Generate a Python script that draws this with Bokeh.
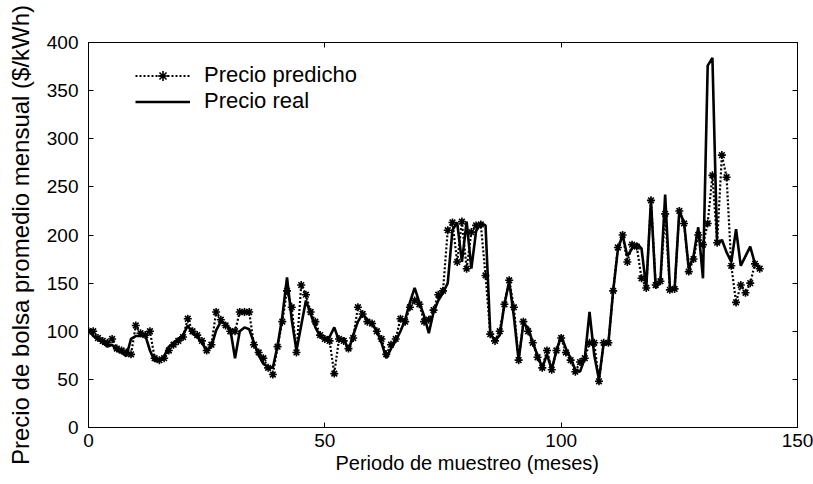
from bokeh.plotting import figure
from bokeh.models import Range1d, LinearAxis, Legend, LegendItem, FixedTicker, Title
from bokeh.embed import file_html
from bokeh.resources import INLINE

# Month index (periodo de muestreo)
meses = list(range(0, 143))

precio_real = [
    102, 95, 92, 88, 84, 86, 80, 78, 74, 92,
    95, 95, 96, 80, 69, 70, 74, 84, 88, 92,
    96, 106, 98, 94, 88, 80, 84, 101, 110, 108,
    102, 72, 100, 104, 102, 88, 75, 66, 63, 62,
    85, 115, 156, 112, 80, 106, 132, 118, 104, 95,
    92, 94, 104, 90, 93, 80, 96, 110, 118, 112,
    108, 100, 88, 72, 82, 90, 100, 112, 130, 145,
    130, 116, 98, 120, 132, 140, 150, 205, 213, 172,
    214, 165, 204, 212, 210, 98, 90, 96, 128, 152,
    115, 70, 108, 104, 88, 75, 62, 76, 60, 80,
    95, 82, 72, 60, 58, 72, 120, 75, 50, 88,
    88, 142, 185, 200, 178, 186, 191, 186, 145, 236,
    145, 152, 242, 146, 144, 225, 213, 165, 178, 208,
    155, 376, 384, 190, 195, 182, 172, 206, 168, 178,
    188, 170, 166,
]

precio_predicho = [
    100, 100, 93, 90, 88, 92, 82, 80, 78, 76,
    106, 98, 96, 100, 72, 70, 72, 80, 86, 90,
    94, 113, 100, 96, 90, 80, 86, 120, 112, 106,
    100, 100, 120, 120, 120, 86, 78, 72, 62, 55,
    84, 110, 142, 125, 78, 148, 138, 120, 110, 96,
    92, 90, 56, 92, 90, 82, 93, 125, 118, 110,
    108, 100, 92, 76, 86, 92, 113, 110, 125, 132,
    128, 110, 112, 122, 138, 142, 205, 213, 172, 214,
    165, 203, 210, 211, 158, 97, 90, 100, 128, 153,
    125, 70, 110, 100, 88, 73, 62, 80, 60, 80,
    93, 78, 70, 58, 68, 72, 88, 88, 48, 88,
    88, 142, 187, 200, 172, 190, 188, 155, 145, 236,
    148, 152, 222, 143, 144, 225, 212, 162, 175, 200,
    190, 212, 262, 192, 283, 260, 168, 130, 148, 140,
    150, 170, 165,
]

x_ticks = [0, 50, 100, 150]
y_ticks = [0, 50, 100, 150, 200, 250, 300, 350, 400]

FONT = "Liberation Sans"

p = figure(width=813, height=484, output_backend="svg", toolbar_location=None,
           x_range=Range1d(0, 150), y_range=Range1d(0, 400),
           min_border_left=88, min_border_right=16, min_border_top=42, min_border_bottom=57)
p.grid.visible = False
p.outline_line_color = "black"
p.outline_line_width = 1
p.background_fill_color = "white"
p.border_fill_color = "white"

for ax in (p.xaxis[0], p.yaxis[0]):
    ax.major_tick_in = 5
    ax.major_tick_out = 0
    ax.minor_tick_in = 0
    ax.minor_tick_out = 0
    ax.axis_line_color = "black"
    ax.major_tick_line_color = "black"
    ax.major_label_text_font = FONT
    ax.major_label_text_font_size = "19px"
    ax.major_label_text_color = "black"
    ax.axis_label_text_font = FONT
    ax.axis_label_text_font_style = "normal"
    ax.axis_label_text_color = "black"

p.xaxis[0].ticker = FixedTicker(ticks=x_ticks)
p.yaxis[0].ticker = FixedTicker(ticks=y_ticks)
p.xaxis[0].major_label_standoff = 6
p.yaxis[0].axis_label = "Precio de bolsa promedio mensual ($/kWh)"
p.yaxis[0].axis_label_text_font_size = "24px"
p.yaxis[0].axis_label_standoff = 10
p.yaxis[0].major_label_standoff = 10

# x-axis label (placed slightly right of centre, as in the reference)
xlabel = Title(text="Periodo de muestreo (meses)", align="left", offset=247,
               text_font=FONT, text_font_size="20px", text_font_style="normal",
               text_color="black", standoff=0)
p.add_layout(xlabel, "below")

for loc, tick in (("right", y_ticks), ("above", x_ticks)):
    ax = LinearAxis(ticker=FixedTicker(ticks=tick))
    ax.major_tick_in = 5
    ax.major_tick_out = 0
    ax.minor_tick_in = 0
    ax.minor_tick_out = 0
    ax.major_label_text_font_size = "1px"
    ax.major_label_text_color = None
    ax.major_label_standoff = 0
    ax.axis_line_color = "black"
    p.add_layout(ax, loc)

real_r = p.line(meses, precio_real, line_color="black", line_width=2.6)
pred_line = p.line(meses, precio_predicho, line_color="black", line_width=2.2, line_dash="2 2")
pred_mark = p.scatter(meses, precio_predicho, marker="asterisk", size=8,
                      line_color="black", line_width=1.6)

legend = Legend(items=[
    LegendItem(label="Precio predicho", renderers=[pred_line, pred_mark]),
    LegendItem(label="Precio real", renderers=[real_r]),
], location=(47, 313))
legend.padding = 0
legend.margin = 0
legend.spacing = 0
legend.glyph_width = 55
legend.glyph_height = 25
legend.label_height = 25
legend.label_standoff = 14
legend.label_text_font = FONT
legend.label_text_font_size = "22px"
legend.label_text_color = "black"
legend.border_line_color = None
legend.background_fill_alpha = 0
p.add_layout(legend, "center")

open("out.html", "w").write(file_html(p, INLINE))
